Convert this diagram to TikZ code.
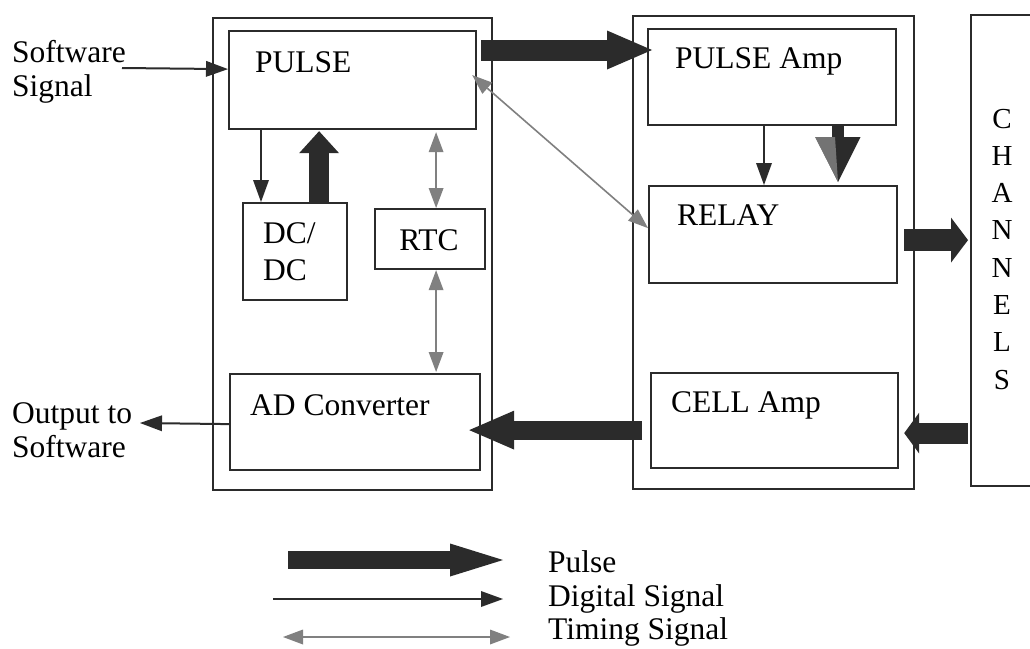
\documentclass[tikz,border=0pt]{standalone}
\usepackage{fontspec}
\setmainfont{Liberation Serif}
\usetikzlibrary{arrows.meta,calc}
\definecolor{dark}{HTML}{2B2B2B}
\definecolor{tgrey}{HTML}{808080}
\begin{document}
\begin{tikzpicture}[x=1pt,y=-1pt,
  box/.style={draw=dark, line width=2.2pt, inner sep=0pt, anchor=north west},
  lbl/.style={inner sep=0pt, anchor=base west, font=\fontsize{31.5pt}{36pt}\selectfont},
  clbl/.style={inner sep=0pt, anchor=base, font=\fontsize{29pt}{34pt}\selectfont},
  digital/.style={draw=dark, line width=2pt, -{Triangle[length=22pt,width=16pt,line width=0pt]}},
  timing/.style={draw=tgrey, line width=1.6pt, {Triangle[length=20pt,width=15pt,line width=0pt]}-{Triangle[length=20pt,width=15pt,line width=0pt]}},
  pulsearr/.style n args={3}{draw=dark, line width=#1, line cap=butt, -{Triangle[length=#2,width=#3,line width=0pt]}}
]
\clip (0,0) rectangle (1030,648);
\fill[white] (0,0) rectangle (1030,648);

% outer boxes
\node[box, minimum width=279pt, minimum height=472pt] (outerL) at (212,17) {};
\node[box, minimum width=281pt, minimum height=473pt] (outerM) at (632,15) {};
\node[box, minimum width=80pt, minimum height=471pt] (chan) at (970,14) {};

% inner boxes
\node[box, minimum width=247pt, minimum height=98pt] (pulse) at (228,30) {};
\node[box, minimum width=104pt, minimum height=97pt] (dcdc) at (242,202) {};
\node[box, minimum width=110pt, minimum height=60pt] (rtc) at (374,208) {};
\node[box, minimum width=250pt, minimum height=96pt] (ad) at (229,373) {};
\node[box, minimum width=248pt, minimum height=96pt] (pamp) at (647,28) {};
\node[box, minimum width=248pt, minimum height=97pt] (relay) at (648,185) {};
\node[box, minimum width=247pt, minimum height=95pt] (cell) at (650,372) {};

% labels
\node[lbl] (pulseT) at (255,72) {PULSE};
\node[lbl] (dcT1) at (263,243) {DC/};
\node[lbl] (dcT2) at (263,280) {DC};
\node[lbl, anchor=base] (rtcT) at (429,250) {RTC};
\node[lbl] (adT) at (250,415) {AD Converter};
\node[lbl] (pampT) at (675,68) {PULSE Amp};
\node[lbl] (relayT) at (677,225) {RELAY};
\node[lbl] (cellT) at (671,412) {CELL Amp};
\node[lbl] (sw1) at (12,62) {Software};
\node[lbl] (sw2) at (12,96) {Signal};
\node[lbl] (out1) at (12,423) {Output to};
\node[lbl] (out2) at (12,457) {Software};
\foreach \ch [count=\i from 0] in {C,H,A,N,N,E,L,S}{
  \node[clbl] (ch\i) at (1002,128+37.3*\i) {\ch};
}

% connectors
\coordinate (swS) at (122,68);
\draw[digital] (swS) -- ($(pulse.west)+(0,-11)$);
\coordinate (outE) at (140,423);
\draw[digital] ($(ad.west)+(0,2)$) -- (outE);

\draw[digital] ($(pulse.south west)+(33,0)$) -- ($(dcdc.north west)+(19,0)$);
\draw[pulsearr={20pt}{22pt}{40pt}] ($(dcdc.north)+(24,0)$) -- ($(pulse.south)+(-33.5,1)$);
\draw[timing] ($(pulse.south)+(83.5,2)$) -- ($(rtc.north)+(6,0)$);
\draw[timing] ($(rtc.south)+(6,0)$) -- ($(ad.north)+(81,-1)$);

\draw[pulsearr={21pt}{45pt}{39pt}] ($(pulse.north east)+(4,20)$) -- ($(pamp.north west)+(5,22)$);
\draw[timing] ($(pulse.east)+(-5,-5)$) -- ($(relay.west)+(0,-6.5)$);

\draw[digital] ($(pamp.south west)+(117,0)$) -- ($(relay.north west)+(116,0)$);
\draw[pulsearr={12pt}{45pt}{45pt}] ($(pamp.south west)+(191,0)$) -- ($(relay.north west)+(190,-3)$);
\coordinate (hgA) at (815,137);
\coordinate (hgB) at (835,137);
\coordinate (hgC) at (838,182);
\fill[tgrey!90!black] (hgA) -- (hgB) -- (hgC) -- cycle;

\draw[pulsearr={22pt}{17pt}{45pt}] ($(relay.east)+(6,5.5)$) -- ($(chan.west)+(-2,-10.5)$);
\draw[pulsearr={21pt}{15pt}{41pt}] ($(chan.west)+(-2,182.5)$) -- ($(cell.east)+(5,12.5)$);
\draw[pulsearr={19pt}{45pt}{39pt}] ($(cell.west)+(-8,9.5)$) -- ($(ad.east)+(-12,8)$);

% legend
\coordinate (lp1) at (288,560);
\coordinate (lp2) at (503,560);
\coordinate (ld1) at (273,599);
\coordinate (ld2) at (503,599);
\coordinate (lt1) at (283,637);
\coordinate (lt2) at (510,637);
\draw[pulsearr={18pt}{53pt}{33pt}] (lp1) -- (lp2);
\draw[digital] (ld1) -- (ld2);
\draw[timing] (lt1) -- (lt2);
\node[lbl] (legP) at (548,572) {Pulse};
\node[lbl] (legD) at (548,606) {Digital Signal};
\node[lbl] (legT) at (548,639) {Timing Signal};
\end{tikzpicture}
\end{document}
